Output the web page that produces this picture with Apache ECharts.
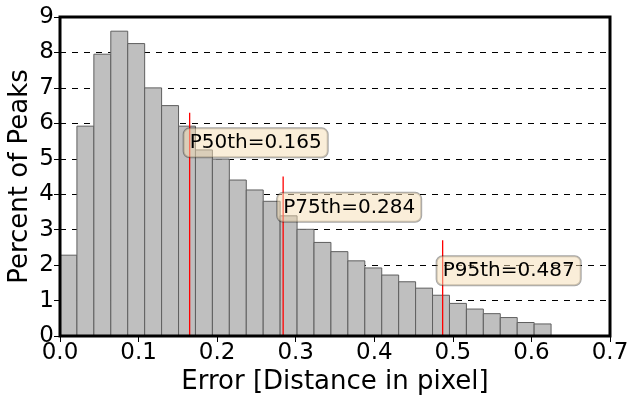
<!DOCTYPE html>
<html>
<head>
<meta charset="utf-8">
<script src="https://cdn.jsdelivr.net/npm/echarts@6/dist/echarts.min.js"></script>
<style>
  html, body { margin: 0; padding: 0; background: #fff; }
  #chart { width: 627px; height: 401px; }
</style>
</head>
<body>
<div id="chart"></div>
<script>
// histogram: 29 bins from 0 to 0.625
var binStart = 0;
var binEnd = 0.625;
var percentOfPeaks = [
  2.28, 5.92, 7.95, 8.6, 8.25, 7.0, 6.5, 5.92, 5.25, 4.99,
  4.4, 4.12, 3.8, 3.39, 3.01, 2.64, 2.38, 2.12, 1.92, 1.72,
  1.53, 1.35, 1.15, 0.92, 0.76, 0.63, 0.52, 0.38, 0.34
];

// percentile markers
var pctNames = ['P50th', 'P75th', 'P95th'];
var pctValues = [0.165, 0.284, 0.487];
var pctLineTops = [6.3, 4.5, 2.7];
var pctLabelY = [5.45, 3.63, 1.84];

var xTicks = ['0.0', '0.1', '0.2', '0.3', '0.4', '0.5', '0.6', '0.7'];

var FONT = 'DejaVu Sans';
var chart = echarts.init(document.getElementById('chart'));

var binWidth = (binEnd - binStart) / percentOfPeaks.length;
var barData = percentOfPeaks.map(function (v, i) {
  return [binStart + i * binWidth, binStart + (i + 1) * binWidth, v];
});

var series = [{
  type: 'custom',
  xAxisIndex: 0,
  yAxisIndex: 0,
  data: barData,
  z: 2,
  renderItem: function (params, api) {
    var p0 = api.coord([api.value(0), api.value(2)]);
    var p1 = api.coord([api.value(1), 0]);
    return {
      type: 'rect',
      shape: { x: p0[0], y: p0[1], width: p1[0] - p0[0], height: p1[1] - p0[1] },
      style: { fill: '#bfbfbf', stroke: '#5f5f5f', lineWidth: 1 }
    };
  }
}];

for (var i = 0; i < pctValues.length; i++) {
  series.push({
    type: 'line',
    data: [[pctValues[i], 0], [pctValues[i], pctLineTops[i]]],
    symbol: 'none',
    lineStyle: { color: '#ff0000', width: 1.3 },
    z: 4,
    silent: true
  });
}

series.push({
  type: 'scatter',
  symbolSize: 0,
  z: 6,
  itemStyle: { opacity: 1 },
  data: pctValues.map(function (v, i) {
    return { value: [v, pctLabelY[i]], name: pctNames[i] + '=' + v.toFixed(3) };
  }),
  label: {
    show: true,
    position: 'right',
    distance: 0,
    offset: [-6, 0],
    formatter: '{b}',
    fontFamily: FONT,
    fontSize: 20,
    color: '#000',
    backgroundColor: 'rgba(245,222,179,0.5)',
    borderColor: 'rgba(0,0,0,0.35)',
    borderWidth: 1,
    borderRadius: 6,
    padding: [5, 6, 4, 6]
  }
});

var insideTick = { show: true, inside: true, length: 6, lineStyle: { color: '#000' } };

var option = {
  animation: false,
  grid: {
    left: 60, right: 17, top: 17, bottom: 65,
    containLabel: false,
    outerBoundsMode: 'none',
    show: true,
    borderColor: '#000',
    borderWidth: 3,
    backgroundColor: 'transparent',
    z: 10
  },
  xAxis: [{
    type: 'value',
    min: 0, max: 0.7, interval: 0.1,
    name: 'Error [Distance in pixel]',
    nameLocation: 'middle',
    nameGap: 33,
    nameMoveOverlap: false,
    nameTextStyle: { fontFamily: FONT, fontSize: 26, color: '#000' },
    axisLine: { show: false },
    axisTick: insideTick,
    axisLabel: {
      fontFamily: FONT, fontSize: 23, color: '#000', margin: 6,
      formatter: function (v) { return xTicks[Math.round(v * 10)]; }
    },
    splitLine: { show: false }
  }, {
    type: 'value',
    position: 'top',
    min: 0, max: 0.7, interval: 0.1,
    axisLine: { show: false },
    axisTick: insideTick,
    axisLabel: { show: false },
    splitLine: { show: false }
  }],
  yAxis: [{
    type: 'value',
    min: 0, max: 9, interval: 1,
    name: 'Percent of Peaks',
    nameLocation: 'middle',
    nameGap: 27,
    nameMoveOverlap: false,
    nameTextStyle: { fontFamily: FONT, fontSize: 26, color: '#000' },
    axisLine: { show: false },
    axisTick: insideTick,
    axisLabel: { fontFamily: FONT, fontSize: 23, color: '#000', margin: 6 },
    splitLine: { show: true, lineStyle: { color: '#000', type: [6, 6], width: 1 } }
  }, {
    type: 'value',
    position: 'right',
    min: 0, max: 9, interval: 1,
    axisLine: { show: false },
    axisTick: insideTick,
    axisLabel: { show: false },
    splitLine: { show: false }
  }],
  series: series
};

chart.setOption(option);
</script>
</body>
</html>
